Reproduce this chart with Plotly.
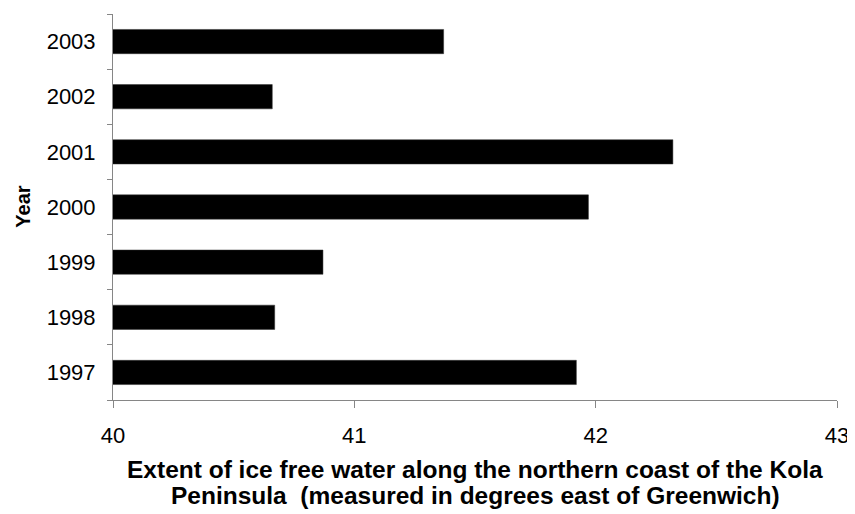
import plotly.graph_objects as go

years = ["1997", "1998", "1999", "2000", "2001", "2002", "2003"]
extent = [41.92, 40.67, 40.87, 41.97, 42.32, 40.66, 41.37]
x_ticks = [40, 41, 42, 43]

axis_color = "#868686"
font_family = "Liberation Sans, Arial, sans-serif"

fig = go.Figure(go.Bar(
    y=years, x=extent, orientation="h",
    marker=dict(color="#000000", line=dict(color="#303030", width=0.5)),
))

fig.update_layout(
    width=847, height=506,
    margin=dict(l=105, r=13, t=6, b=114),
    paper_bgcolor="white", plot_bgcolor="white",
    showlegend=False, bargap=0.56,
    font=dict(family=font_family, color="#000000"),
    xaxis=dict(
        range=[40, 43], tickvals=x_ticks, ticktext=[str(v) for v in x_ticks],
        showgrid=False, zeroline=False, showline=True, linecolor=axis_color, linewidth=1,
        ticks="outside", ticklen=7, tickcolor=axis_color, tickwidth=1,
        tickfont=dict(size=22, family=font_family, color="#000000"),
        ticklabelstandoff=9,
    ),
    yaxis=dict(
        type="category", categoryorder="array", categoryarray=years,
        showgrid=False, zeroline=False, showline=True, linecolor=axis_color, linewidth=1,
        ticks="outside", ticklen=5, tickcolor=axis_color, tickwidth=1, tickson="boundaries",
        tickfont=dict(size=22, family=font_family, color="#000000"),
        ticklabelstandoff=12,
    ),
    annotations=[
        dict(text="<b>Extent of ice free water along the northern coast of the Kola</b>",
             xref="paper", yref="paper", x=0.5, y=-0.1813, xanchor="center", yanchor="middle",
             showarrow=False, font=dict(size=24.5, family=font_family, color="#000000")),
        dict(text="<b>Peninsula  (measured in degrees east of Greenwich)</b>",
             xref="paper", yref="paper", x=0.5, y=-0.2487, xanchor="center", yanchor="middle",
             showarrow=False, font=dict(size=24.5, family=font_family, color="#000000")),
        dict(text="<b>Year</b>", xref="paper", yref="paper", x=-0.1248, y=0.5,
             xanchor="center", yanchor="middle", textangle=-90, showarrow=False,
             font=dict(size=20, family=font_family, color="#000000")),
    ],
)

fig.write_html("out.html")
